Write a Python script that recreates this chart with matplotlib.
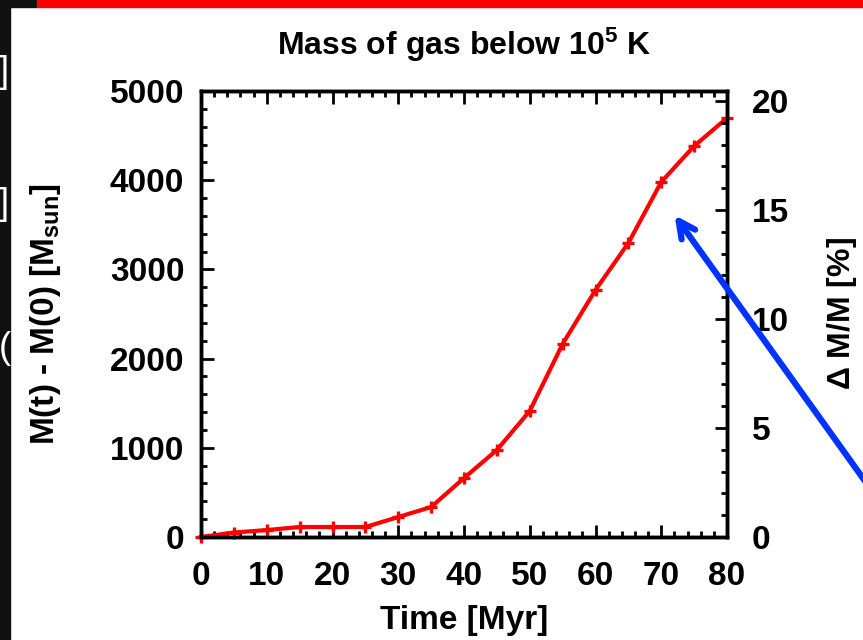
import matplotlib
matplotlib.use("Agg")
import matplotlib.pyplot as plt
from matplotlib.patches import Rectangle, FancyArrowPatch
from matplotlib.ticker import MultipleLocator

plt.rcParams['font.family'] = ['Liberation Sans', 'DejaVu Sans']
plt.rcParams['font.weight'] = 'bold'
plt.rcParams['mathtext.fontset'] = 'custom'
plt.rcParams['mathtext.rm'] = 'Liberation Sans:bold'
plt.rcParams['mathtext.default'] = 'rm'

# data
time_myr = [0, 5, 10, 15, 20, 25, 30, 35, 40, 45, 50, 55, 60, 65, 70, 75, 80]
mass_gain = [0, 50, 78, 112, 112, 112, 224, 336, 661, 975, 1413, 2164, 2769,
             3296, 3980, 4383, 4697]

title = 'Mass of gas below 10$^{5}$ K'
xlabel = 'Time [Myr]'
ylabel = 'M(t) - M(0) [M$_{sun}$]'
y2label = '$\\Delta$ M/M [%]'

W, H = 863, 640
fig = plt.figure(figsize=(W / 100, H / 100), dpi=100)

# slide background bits
fig.patches.append(Rectangle((0, 0), 10 / W, 1, transform=fig.transFigure,
                             color='#111111', zorder=0))
fig.patches.append(Rectangle((0, 1 - 7 / H), 37 / W, 7 / H, transform=fig.transFigure,
                             color='#111111', zorder=0))
fig.patches.append(Rectangle((37 / W, 1 - 7 / H), 1 - 37 / W, 7 / H,
                             transform=fig.transFigure, color='#ff0000', zorder=0))
# cut-off slide text behind the chart
for ypix, ch, xpix, ha in [(72, ']', 9, 'right'), (204, ']', 9, 'right'),
                           (348, '(', -1, 'left')]:
    fig.text(xpix / W, 1 - ypix / H, ch, color='white', fontsize=26,
             fontweight='normal', ha=ha, va='center')

ax = fig.add_axes([201 / W, (H - 537) / H, 526 / W, 446 / H])
ax.plot(time_myr, mass_gain, color='#ff0000', lw=3, marker='+', ms=8, mew=2.4,
        clip_on=False, zorder=5)
ax.set_xlim(0, 80)
ax.set_ylim(0, 5000)
ax.xaxis.set_major_locator(MultipleLocator(10))
ax.xaxis.set_minor_locator(MultipleLocator(2))
ax.yaxis.set_major_locator(MultipleLocator(1000))
ax.yaxis.set_minor_locator(MultipleLocator(200))
ax.tick_params(which='both', direction='in', top=True, right=False, width=2,
               labelsize=24, pad=12)
ax.tick_params(axis='x', which='major', pad=17)
ax.tick_params(which='major', length=9)
ax.tick_params(which='minor', length=4.5)
for s in ax.spines.values():
    s.set_linewidth(2.5)

ax2 = ax.twinx()
ax2.set_ylim(0, 20.46)
ax2.yaxis.set_major_locator(MultipleLocator(5))
ax2.yaxis.set_minor_locator(MultipleLocator(1))
ax2.tick_params(which='both', direction='in', width=2, labelsize=24, pad=18)
ax2.tick_params(which='major', length=9)
ax2.tick_params(which='minor', length=4.5)
for s in ax2.spines.values():
    s.set_linewidth(2.5)

ax.set_title(title, fontsize=23, fontweight='bold', pad=26)
ax.set_xlabel(xlabel, fontsize=24, fontweight='bold', labelpad=10)
ax.set_ylabel(ylabel, fontsize=24, fontweight='bold', labelpad=34)
ax2.set_ylabel(y2label, fontsize=23, fontweight='bold', labelpad=26)

# blue arrow pointing at the curve
fig.add_artist(FancyArrowPatch(
    (880 / W, 1 - 502 / H), (673 / W, 1 - 213 / H), transform=fig.transFigure,
    arrowstyle='->', mutation_scale=30, color='#0033ff', lw=4.5, zorder=10))

fig.savefig('out.png', dpi=100)
